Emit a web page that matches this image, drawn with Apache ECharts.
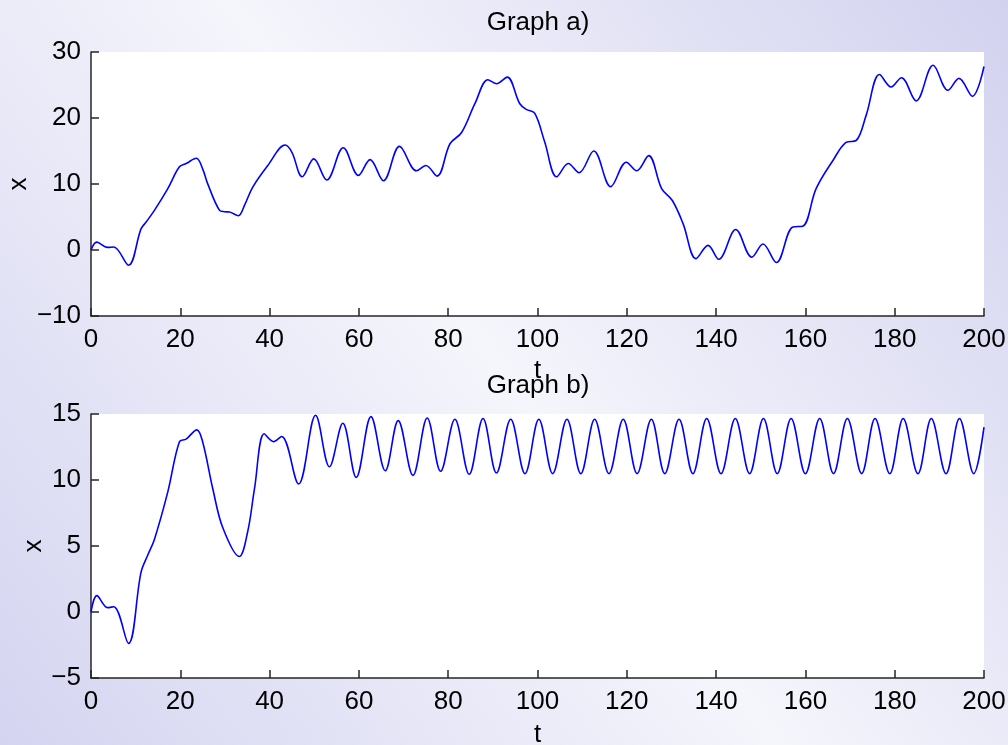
<!DOCTYPE html>
<html><head><meta charset="utf-8">
<script src="https://cdn.jsdelivr.net/npm/echarts@6/dist/echarts.min.js"></script>
<style>html,body{margin:0;padding:0;width:1008px;height:745px;overflow:hidden;background:#fff}#c{width:1008px;height:745px}</style>
</head><body><div id="c"></div>
<script>
// Graph a)
const tA = [0,1.3,3.7,5.1,8.4,11.2,12.3,14.2,17.2,19.8,21.3,23.6,25.0,26.1,28.8,29.9,31.0,33.0,34.4,36.2,39.6,43.5,45.0,47.3,49.9,52.8,56.5,59.9,62.5,65.5,69.1,72.9,75.0,77.5,80.4,83.0,86.0,88.9,90.8,93.2,96.0,97.5,99.4,101.6,104.3,106.9,109.3,112.6,116.4,119.9,122.2,124.9,127.8,130.2,132.6,135.5,138.2,140.6,144.4,148.0,150.5,153.5,157.2,159.4,162.4,166.2,169.1,171.4,173.6,176.6,179.2,181.5,184.8,188.6,191.9,194.4,197.4,200];
const xA = [0,1.2,0.4,0.45,-2.3,3.2,4.2,6.0,9.3,12.6,13.1,13.9,12.3,10.1,6.0,5.8,5.75,5.2,6.8,9.5,12.8,15.9,14.8,11.1,13.8,10.6,15.5,11.3,13.7,10.5,15.7,12.0,12.8,11.2,16.1,17.8,22.2,25.8,25.2,26.2,22.2,21.3,20.7,16.4,11.1,13.1,11.7,15.0,9.6,13.3,12.0,14.3,9.3,7.5,4.0,-1.3,0.7,-1.4,3.1,-1.1,0.9,-1.9,3.5,3.6,9.3,13.6,16.3,16.6,20.4,26.6,24.7,26.1,22.6,28.0,24.2,26.0,23.3,27.8];
// Graph b)
const tB = [0,1.3,3.7,5.1,8.4,11.2,12.7,14.2,17.2,19.8,21.3,23.7,25.0,27.3,29.5,33.2,35.1,36.6,38.8,40.9,42.7,46.5,50.3,53.4,56.4,59.4,62.7,65.9,68.8,72.1,75.3,78.3,81.5,84.7,87.8,90.8,94.0,97.2,100.3,103.4,106.6,109.7,112.8,116.0,119.2,122.3,125.5,128.5,131.7,134.8,137.9,141.1,144.3,147.5,150.6,153.7,156.8,160.0,163.2,166.3,169.4,172.6,175.6,178.9,181.9,185.2,188.2,191.5,194.5,197.7,200];
const xB = [0,1.24,0.33,0.4,-2.38,3.0,4.3,5.5,9.1,12.9,13.1,13.8,12.9,9.3,6.4,4.2,6.1,9.3,13.5,12.9,13.3,9.7,14.9,11.0,14.3,10.2,14.8,10.7,14.5,10.35,14.7,10.66,14.6,10.43,14.66,10.53,14.6,10.48,14.6,10.48,14.6,10.48,14.6,10.48,14.6,10.48,14.6,10.48,14.6,10.48,14.66,10.48,14.66,10.48,14.66,10.48,14.66,10.48,14.66,10.48,14.66,10.48,14.66,10.48,14.66,10.48,14.66,10.48,14.66,10.48,14.0];
// tick values
const xTicks = [0,20,40,60,80,100,120,140,160,180,200];
const yTicksA = [-10,0,10,20,30];
const yTicksB = [-5,0,5,10,15];
const titles = ['Graph a)','Graph b)'];

const FONT = '"Liberation Sans", Arial, Helvetica, sans-serif';
const FS = 26;
const AXC = '#262626';
const fmt = v => String(v).replace('-', '\u2212');

function xAx(gi, gap){
  return {type:'value', gridIndex:gi, min:xTicks[0], max:xTicks[xTicks.length-1], interval:xTicks[1]-xTicks[0],
    name:'t', nameLocation:'middle', nameGap:gap, nameMoveOverlap:false,
    nameTextStyle:{color:'#000', fontSize:FS, fontFamily:FONT},
    axisLine:{show:true, onZero:false, lineStyle:{color:AXC, width:1.5}},
    axisTick:{show:true, inside:true, length:8, lineStyle:{color:AXC, width:1.5}},
    axisLabel:{color:'#000', fontSize:FS, fontFamily:FONT, margin:11, formatter:fmt, hideOverlap:false},
    splitLine:{show:false}};
}
function yAx(gi, ticks, gap){
  return {type:'value', gridIndex:gi, min:ticks[0], max:ticks[ticks.length-1], interval:ticks[1]-ticks[0],
    name:'x', nameLocation:'middle', nameGap:gap, nameRotate:90, nameMoveOverlap:false,
    nameTextStyle:{color:'#000', fontSize:FS, fontFamily:FONT},
    axisLine:{show:true, onZero:false, lineStyle:{color:AXC, width:1.5}},
    axisTick:{show:true, inside:true, length:8, lineStyle:{color:AXC, width:1.5}},
    axisLabel:{color:'#000', fontSize:FS, fontFamily:FONT, margin:10, formatter:fmt, hideOverlap:false},
    splitLine:{show:false}};
}
const zip = (a,b) => a.map((v,i)=>[v,b[i]]);

const chart = echarts.init(document.getElementById('c'), null, {renderer:'canvas'});
chart.setOption({
  animation:false,
  backgroundColor:{type:'linear', x:1, y:0, x2:0, y2:1, colorStops:[
    {offset:0, color:'#d2d2ef'},{offset:0.5, color:'#f5f5fc'},{offset:1, color:'#d4d4f1'}]},
  title:[
    {text:titles[0], left:538, top:10, padding:0, textAlign:'center', textStyle:{color:'#000', fontSize:FS, fontWeight:'normal', fontFamily:FONT}},
    {text:titles[1], left:538, top:373, padding:0, textAlign:'center', textStyle:{color:'#000', fontSize:FS, fontWeight:'normal', fontFamily:FONT}}
  ],
  grid:[
    {left:91, top:52, width:893, height:264, show:true, backgroundColor:'#ffffff', borderWidth:0, containLabel:false, outerBoundsMode:'none'},
    {left:91, top:414, width:893, height:264, show:true, backgroundColor:'#ffffff', borderWidth:0, containLabel:false, outerBoundsMode:'none'}
  ],
  xAxis:[xAx(0, 42), xAx(1, 44)],
  yAxis:[yAx(0, yTicksA, 59), yAx(1, yTicksB, 44)],
  series:[
    {type:'line', xAxisIndex:0, yAxisIndex:0, data:zip(tA,xA), showSymbol:false, smooth:0.36, lineStyle:{color:'#0000ff', width:1.6}, itemStyle:{color:'#0000ff'}},
    {type:'line', xAxisIndex:1, yAxisIndex:1, data:zip(tB,xB), showSymbol:false, smooth:0.36, lineStyle:{color:'#0000ff', width:1.6}, itemStyle:{color:'#0000ff'}}
  ]
});
</script></body></html>
